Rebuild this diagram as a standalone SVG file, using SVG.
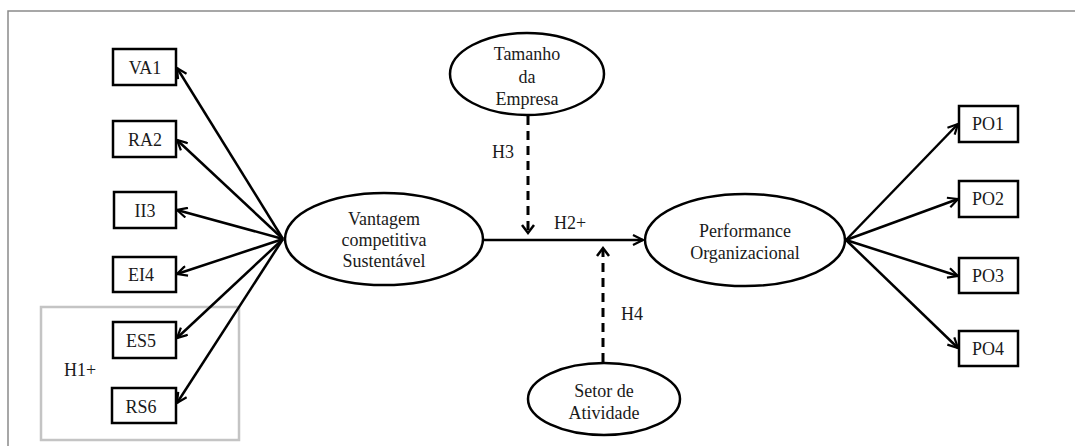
<svg xmlns="http://www.w3.org/2000/svg" width="1075" height="446" viewBox="0 0 1075 446">
<style>
.box{fill:#fff;stroke:#000;stroke-width:2.5}
.ell{fill:#fff;stroke:#000;stroke-width:2.5}
text{font-family:'Liberation Serif','DejaVu Serif',serif;font-size:18px;fill:#1a1a1a;text-anchor:middle;dominant-baseline:central}
.c{stroke:#000;stroke-width:2.5;fill:none}
.d{stroke:#000;stroke-width:3;fill:none;stroke-dasharray:9,6}
</style>
<defs>
<marker id="ah" viewBox="0 0 12 12" refX="11" refY="6" markerWidth="12" markerHeight="12" markerUnits="userSpaceOnUse" orient="auto">
<path d="M1,1 L11,6 L1,11" fill="none" stroke="#000" stroke-width="2.2"/>
</marker>
</defs>
<rect width="1075" height="446" fill="#fff"/>
<path d="M8,446 V11 H1075" fill="none" stroke="#8a8a8a" stroke-width="1.5"/>
<rect id="h1group" x="41" y="307" width="198" height="133" fill="none" stroke="#c4c4c4" stroke-width="2.5"/>
<text x="80" y="370" font-family="Liberation Serif, serif">H1+</text>
<g id="connectors">
<line class="c" x1="283" y1="239" x2="177" y2="68" marker-end="url(#ah)"/>
<line class="c" x1="283" y1="239" x2="177" y2="140" marker-end="url(#ah)"/>
<line class="c" x1="283" y1="239" x2="177" y2="210" marker-end="url(#ah)"/>
<line class="c" x1="283" y1="239" x2="177" y2="274" marker-end="url(#ah)"/>
<line class="c" x1="283" y1="239" x2="177" y2="338" marker-end="url(#ah)"/>
<line class="c" x1="283" y1="239" x2="177" y2="403" marker-end="url(#ah)"/>
<line class="c" x1="483" y1="240" x2="643" y2="240" marker-end="url(#ah)"/>
<line class="d" x1="528" y1="116" x2="528" y2="232"/>
<path d="M522,225 L528,233 L534,225" class="c"/>
<line class="d" x1="603" y1="362" x2="603" y2="250"/>
<path d="M597,256 L603,248 L609,256" class="c"/>
<line class="c" x1="846" y1="240" x2="958" y2="124" marker-end="url(#ah)"/>
<line class="c" x1="846" y1="240" x2="958" y2="199" marker-end="url(#ah)"/>
<line class="c" x1="846" y1="240" x2="958" y2="276" marker-end="url(#ah)"/>
<line class="c" x1="846" y1="240" x2="958" y2="348" marker-end="url(#ah)"/>
</g>
<text x="503" y="152">H3</text>
<text x="570" y="223">H2+</text>
<text x="632" y="314">H4</text>
<g id="VA1"><rect class="box" x="113" y="49" width="63" height="36"/><text x="145" y="68">VA1</text></g>
<g id="RA2"><rect class="box" x="113" y="121" width="63" height="36"/><text x="145" y="140">RA2</text></g>
<g id="II3"><rect class="box" x="114" y="192" width="62" height="36"/><text x="145" y="211">II3</text></g>
<g id="EI4"><rect class="box" x="113" y="257" width="63" height="35"/><text x="141" y="275">EI4</text></g>
<g id="ES5"><rect class="box" x="113" y="322" width="63" height="36"/><text x="141" y="341">ES5</text></g>
<g id="RS6"><rect class="box" x="112" y="388" width="64" height="35"/><text x="141" y="407">RS6</text></g>
<g id="vantagem"><ellipse class="ell" cx="384" cy="239" rx="99" ry="46"/><text x="384" y="219">Vantagem</text><text x="384" y="240">competitiva</text><text x="384" y="261">Sustentável</text></g>
<g id="tamanho"><ellipse class="ell" cx="527" cy="74" rx="77" ry="41"/><text x="527" y="54">Tamanho</text><text x="527" y="77">da</text><text x="527" y="99">Empresa</text></g>
<g id="setor"><ellipse class="ell" cx="604" cy="399" rx="76" ry="36"/><text x="604" y="391">Setor de</text><text x="604" y="413">Atividade</text></g>
<g id="performance"><ellipse class="ell" cx="745" cy="240" rx="100" ry="46"/><text x="745" y="231">Performance</text><text x="745" y="253">Organizacional</text></g>
<g id="PO1"><rect class="box" x="959" y="106" width="59" height="36"/><text x="988" y="124">PO1</text></g>
<g id="PO2"><rect class="box" x="959" y="181" width="59" height="36"/><text x="988" y="199">PO2</text></g>
<g id="PO3"><rect class="box" x="959" y="258" width="59" height="35"/><text x="988" y="276">PO3</text></g>
<g id="PO4"><rect class="box" x="959" y="331" width="59" height="35"/><text x="988" y="349">PO4</text></g>
</svg>
